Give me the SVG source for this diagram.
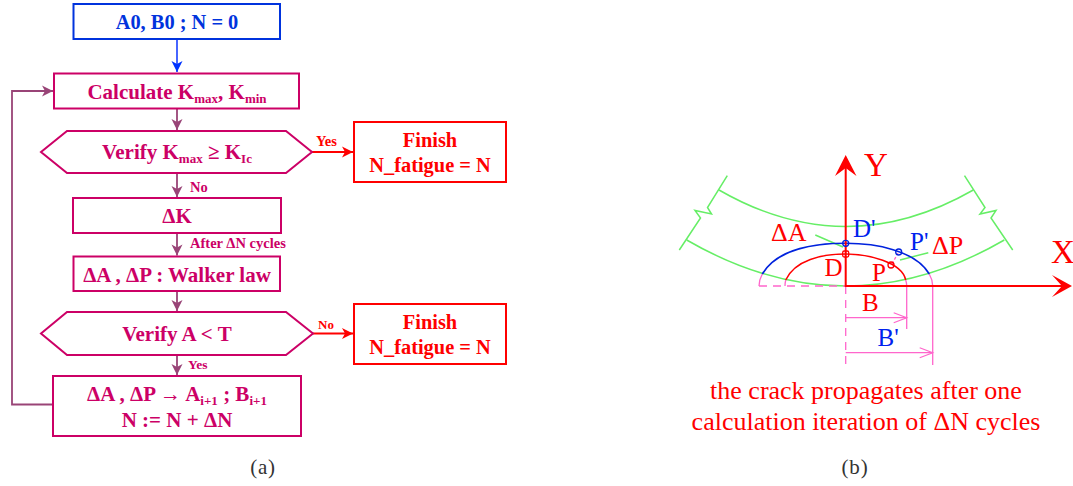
<svg xmlns="http://www.w3.org/2000/svg" width="1073" height="486" viewBox="0 0 1073 486">
<style>
text{font-family:"Liberation Serif","Times New Roman",serif}
.f{font-weight:bold;text-anchor:middle;font-size:21px;fill:#cc0066}
.fr{font-weight:bold;text-anchor:middle;font-size:20.400px;fill:#ff0000}
.fb{font-weight:bold;text-anchor:middle;font-size:20.400px;fill:#0033dd}
.l{font-weight:bold;font-size:14.500px;fill:#cc0066}
.lr{font-weight:bold;font-size:14.500px;fill:#ff0000}
.s{font-size:13px}
.box{fill:#fff;stroke:#cc0066;stroke-width:2}
.rb{fill:#fff;stroke:#ff0000;stroke-width:2}
.c{fill:none;stroke:#994477;stroke-width:1.800}
.g{fill:none;stroke:#66ee66;stroke-width:1.500}
.p{fill:none;stroke:#ff66cc;stroke-width:1.300}
.d{stroke-dasharray:8 6}
.R{fill:#ff0000;font-size:25px}
.B{fill:#0022ee;font-size:25px}
.cap{font-size:21px;fill:#333;text-anchor:middle;letter-spacing:.8px}
</style>
<defs>
<marker id="mp" markerUnits="userSpaceOnUse" markerWidth="14" markerHeight="14" refX="12" refY="6.500" orient="auto"><path d="M1 1L12 6.500L1 12L4 6.500Z" fill="#994477"/></marker>
<marker id="mb" markerUnits="userSpaceOnUse" markerWidth="14" markerHeight="14" refX="12" refY="6.500" orient="auto"><path d="M1 1L12 6.500L1 12L4 6.500Z" fill="#0033ff"/></marker>
<marker id="mr" markerUnits="userSpaceOnUse" markerWidth="14" markerHeight="14" refX="12" refY="6.500" orient="auto"><path d="M1 1L12 6.500L1 12L4 6.500Z" fill="#ff0000"/></marker>
<marker id="mo" markerUnits="userSpaceOnUse" markerWidth="16" markerHeight="14" refX="14" refY="7" orient="auto"><path d="M1 2L14 7L1 12" fill="none" stroke="#ff66cc" stroke-width="1.200"/></marker>
</defs>

<g id="connectors">
<path class="c" style="stroke:#3355ff" d="M177 39V72" marker-end="url(#mb)"/>
<path class="c" d="M177 108.500V130" marker-end="url(#mp)"/>
<path class="c" d="M177 173V197" marker-end="url(#mp)"/>
<path class="c" d="M177 233V255.500" marker-end="url(#mp)"/>
<path class="c" d="M177 291V311" marker-end="url(#mp)"/>
<path class="c" d="M177 355V375" marker-end="url(#mp)"/>
<path class="c" d="M53 404.500H12V91H53" marker-end="url(#mp)"/>
<path class="c" style="stroke:#ff0000" d="M312 152H353" marker-end="url(#mr)"/>
<path class="c" style="stroke:#ff0000" d="M313 333.500H353" marker-end="url(#mr)"/>
</g>

<g id="n-start"><rect x="73.500" y="4" width="206.500" height="35" fill="#fff" stroke="#0033dd" stroke-width="2"/><text class="fb" x="177" y="29">A0, B0 ; N = 0</text></g>
<g id="n-calc"><rect class="box" x="54" y="73.500" width="245" height="35"/><text class="f" x="177" y="99">Calculate K<tspan class="s" dy="4">max</tspan><tspan dy="-4">, K</tspan><tspan class="s" dy="4">min</tspan></text></g>
<g id="n-verify1"><path class="box" d="M41 152L67 131H286L312 152L286 173H67Z"/><text class="f" x="177" y="159">Verify K<tspan class="s" dy="4">max</tspan><tspan dy="-4"> ≥ K</tspan><tspan class="s" dy="4">Ic</tspan></text></g>
<g id="n-finish1"><rect class="rb" x="354" y="122" width="152" height="60"/><text class="fr" x="430" y="147">Finish</text><text class="fr" x="430" y="172">N_fatigue = N</text></g>
<g id="n-dk"><rect class="box" x="73" y="198" width="208" height="35"/><text class="f" x="177" y="223">ΔK</text></g>
<g id="n-walker"><rect class="box" x="73.500" y="256.500" width="206.500" height="34.500"/><text class="f" x="177" y="281.500">ΔA , ΔP : Walker law</text></g>
<g id="n-verify2"><path class="box" d="M41 333.500L67 312H286L313 333.500L286 355H67Z"/><text class="f" x="177" y="341">Verify A &lt; T</text></g>
<g id="n-finish2"><rect class="rb" x="354" y="304" width="152" height="60"/><text class="fr" x="430" y="329">Finish</text><text class="fr" x="430" y="354">N_fatigue = N</text></g>
<g id="n-update"><rect class="box" x="53" y="376" width="248" height="60"/><text class="f" x="177" y="401">ΔA , ΔP → A<tspan class="s" dy="4">i+1</tspan><tspan dy="-4"> ; B</tspan><tspan class="s" dy="4">i+1</tspan></text><text class="f" x="177" y="427">N := N + ΔN</text></g>

<text class="lr" x="316" y="146">Yes</text>
<text class="l" x="190" y="192">No</text>
<text class="l" x="190" y="248">After ΔN cycles</text>
<text class="lr" style="font-size:13px" x="318" y="329">No</text>
<text class="l" style="font-size:13.500px" x="188" y="369">Yes</text>
<text class="cap" x="263" y="474">(a)</text>

<path class="g" d="M727.300 175.700L707.500 207.500L711.500 214L695 210.500L700.500 218L679.300 250"/>
<path class="g" d="M964.500 175.700L985 207.500L980 214L996 210.500L991 218L1012.700 250"/>
<path class="g" d="M719 190Q845.700 263 973.300 190"/>
<path class="g" d="M686.700 240Q845.700 332 1004.300 240"/>
<path class="g" d="M815.300 235L843 247M928.300 252.700L900 260"/>
<path class="p" d="M762.300 274Q759 280 759 286"/>
<path class="p" d="M785.700 280Q785 283 785 286"/>
<path class="p d" d="M759 286H845.700M845.700 286V370"/>
<path class="p" d="M929.300 274Q932.700 280 932.700 286V365M905.700 280Q906.700 283 906.700 286V329"/>
<path class="p" d="M892 264L898 253" stroke-dasharray="3 2"/>
<path class="p" d="M845.700 317.700H906.700" marker-end="url(#mo)"/>
<path class="p" d="M845.700 352.700H932.700" marker-end="url(#mo)"/>
<path fill="none" stroke="#0022dd" stroke-width="1.600" d="M762.300 274C777 249 815 243.300 845.700 243.300C875 243.300 915 250 929.300 274"/>
<path fill="none" stroke="#ff0000" stroke-width="1.500" d="M785.700 280C795 260 822 254 845.700 254C868 254 902 262 905.700 280"/>
<path fill="none" stroke="#ff0000" stroke-width="2" d="M845.700 165V286H1062"/>
<path fill="#ff0000" d="M845.700 155L856.500 176L845.700 168L835 176Z"/>
<path fill="#ff0000" d="M1072 286L1052 275L1062 286L1052 297Z"/>
<g fill="none" stroke-width="1.300">
<circle cx="845.700" cy="243.300" r="3" stroke="#0022dd"/>
<rect x="842.700" y="251" width="6" height="6" rx="1.500" stroke="#ff0000"/>
<circle cx="898.700" cy="252" r="3" stroke="#0022dd"/>
<circle cx="891" cy="265" r="3" stroke="#ff0000"/>
</g>
<text class="R" style="font-size:33px" x="864" y="176">Y</text>
<text class="R" style="font-size:33px" x="1051" y="263">X</text>
<text class="B" x="853" y="236.500">D'</text>
<text class="B" x="910" y="250">P'</text>
<text class="R" style="font-size:26px" x="771" y="241">ΔA</text>
<text class="R" style="font-size:26px" x="932" y="254">ΔP</text>
<text class="R" x="824.500" y="275.500">D</text>
<text class="R" x="872" y="281">P</text>
<text class="R" x="862" y="310.500">B</text>
<text class="B" x="877.500" y="346">B'</text>
<text class="R" style="text-anchor:middle;font-size:26px" x="866" y="399">the crack propagates after one</text>
<text class="R" style="text-anchor:middle;font-size:26px" x="866" y="430">calculation iteration of ΔN cycles</text>
<text class="cap" x="855" y="474">(b)</text>
</svg>
